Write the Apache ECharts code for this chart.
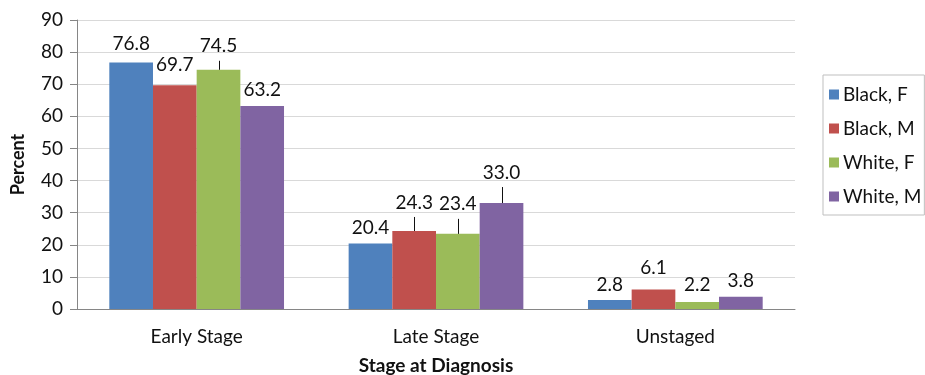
<!DOCTYPE html>
<html>
<head>
<meta charset="utf-8">
<script src="https://cdn.jsdelivr.net/npm/echarts@6/dist/echarts.min.js"></script>
<style>
  html, body { margin: 0; padding: 0; background: #fff; }
  #container { width: 925px; height: 375px; }
</style>
</head>
<body>
<div id="container"></div>
<script>
// chart data
var stages = ['Early Stage', 'Late Stage', 'Unstaged'];
var groups = ['Black, F', 'Black, M', 'White, F', 'White, M'];
var blackF = [76.8, 20.4, 2.8];
var blackM = [69.7, 24.3, 6.1];
var whiteF = [74.5, 23.4, 2.2];
var whiteM = [63.2, 33.0, 3.8];

// label lift in px (labels moved by hand in the original)
var lift = [
  [3, 0, 0],
  [5, 13, 6],
  [8, 14, 2],
  [1, 15, 0]
];

var colors = ['#4F81BD', '#C0504D', '#9BBB59', '#8064A2'];
var font = 'Lato, "Open Sans", sans-serif';
var catGap = 0.27;

var dom = document.getElementById('container');
var myChart = echarts.init(dom);

var allValues = [blackF, blackM, whiteF, whiteM];

var barSeries = groups.map(function (name, s) {
  return {
    name: name,
    type: 'bar',
    barGap: 0,
    barCategoryGap: (catGap * 100) + '%',
    itemStyle: { color: colors[s] },
    label: {
      show: true,
      position: 'top',
      distance: 6,
      color: '#111',
      fontFamily: font,
      fontSize: 19,
      formatter: function (p) { return p.value.toFixed(1); }
    },
    data: allValues[s].map(function (v, c) {
      return { value: v, label: { offset: [0, -lift[s][c]] } };
    })
  };
});

// leader lines from bar top to the moved label
var leaders = [];
for (var s = 0; s < allValues.length; s++) {
  for (var c = 0; c < stages.length; c++) {
    if (lift[s][c] >= 8) leaders.push([c, allValues[s][c], s, lift[s][c] + 1]);
  }
}

var option = {
  animation: false,
  textStyle: { fontFamily: font },
  grid: { left: 77, top: 20, right: 130, bottom: 66, outerBoundsMode: 'none' },
  legend: {
    data: groups,
    orient: 'vertical',
    left: 823,
    top: 75,
    padding: [10, 3, 9, 6],
    itemGap: 15,
    itemWidth: 10,
    itemHeight: 10,
    icon: 'rect',
    borderColor: '#bfbfbf',
    borderWidth: 1,
    textStyle: { fontFamily: font, fontSize: 19, color: '#111', padding: [0, 0, 0, -1] }
  },
  xAxis: {
    type: 'category',
    data: stages,
    name: 'Stage at Diagnosis',
    nameLocation: 'middle',
    nameGap: 47,
    nameTextStyle: { fontFamily: font, fontSize: 19, fontWeight: 'bold', color: '#111' },
    axisLine: { lineStyle: { color: '#868686' } },
    axisTick: { show: false },
    axisLabel: { fontFamily: font, fontSize: 19, color: '#111', margin: 18 }
  },
  yAxis: {
    type: 'value',
    min: 0,
    max: 90,
    interval: 10,
    name: 'Percent',
    nameLocation: 'middle',
    nameGap: 50,
    nameTextStyle: { fontFamily: font, fontSize: 18, fontWeight: 'bold', color: '#111' },
    axisLine: { show: true, lineStyle: { color: '#868686' } },
    axisTick: { show: true, length: 7, lineStyle: { color: '#868686' } },
    axisLabel: { fontFamily: font, fontSize: 19, color: '#111', margin: 14 },
    splitLine: { lineStyle: { color: '#d9d9d9' } }
  },
  series: barSeries.concat([{
    type: 'custom',
    name: 'leaders',
    z: 5,
    silent: true,
    encode: { x: 0, y: 1 },
    data: leaders,
    renderItem: function (params, api) {
      var top = api.coord([api.value(0), api.value(1)]);
      var bandW = api.size([1, 0])[0];
      var barW = bandW * (1 - catGap) / 4;
      var x = Math.round(top[0] + (api.value(2) - 1.5) * barW) + 0.5;
      return {
        type: 'line',
        shape: { x1: x, y1: top[1], x2: x, y2: top[1] - api.value(3) },
        style: { stroke: '#111', lineWidth: 1 }
      };
    }
  }])
};

myChart.setOption(option);
</script>
</body>
</html>
